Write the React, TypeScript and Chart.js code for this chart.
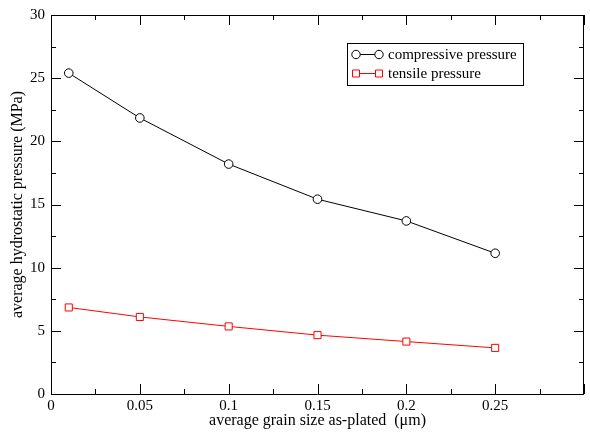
import React, { useEffect, useRef } from "react";
import { Chart, registerables } from "chart.js";

Chart.register(...registerables);

const grainSizes = [0.01, 0.05, 0.1, 0.15, 0.2, 0.25];
const compressive = [25.4, 21.85, 18.2, 15.42, 13.7, 11.14];
const tensile = [6.85, 6.1, 5.35, 4.66, 4.15, 3.65];
const seriesLabels = ["compressive pressure", "tensile pressure"];
const seriesColors = ["#000000", "#ff0000"];
const seriesMarkers = ["circle", "rect"];
const xTitle = "average grain size as-plated  (\u03bcm)";
const yTitle = "average hydrostatic pressure (MPa)";
const X_MIN = 0, X_MAX = 0.3, X_STEP = 0.05;
const Y_MIN = 0, Y_MAX = 30, Y_STEP = 5;

const FONT = "'Liberation Serif', 'Times New Roman', serif";

const framePlugin = {
  id: "frameTicks",
  afterDatasetsDraw(chart: any) {
    const { ctx, chartArea } = chart;
    const { left, right, top, bottom } = chartArea;
    const xs = chart.scales.x;
    const ys = chart.scales.y;
    ctx.save();
    ctx.strokeStyle = "#000";
    ctx.lineWidth = 1;
    ctx.beginPath();
    ctx.rect(Math.round(left) + 0.5, Math.round(top) + 0.5, Math.round(right - left) - 1, Math.round(bottom - top));
    ctx.stroke();
    ctx.beginPath();
    for (let v = X_MIN; v <= X_MAX + 1e-9; v += X_STEP / 2) {
      const idx = Math.round(v / (X_STEP / 2));
      const len = idx % 2 === 0 ? 10 : 5;
      const px = Math.round(xs.getPixelForValue(v)) + 0.5;
      ctx.moveTo(px, bottom);
      ctx.lineTo(px, bottom - len);
      ctx.moveTo(px, top);
      ctx.lineTo(px, top + len);
    }
    for (let v = Y_MIN; v <= Y_MAX + 1e-9; v += Y_STEP / 2) {
      const idx = Math.round(v / (Y_STEP / 2));
      const len = idx % 2 === 0 ? 10 : 5;
      const py = Math.round(ys.getPixelForValue(v)) + 0.5;
      ctx.moveTo(left, py);
      ctx.lineTo(left + len, py);
      ctx.moveTo(right, py);
      ctx.lineTo(right - len, py);
    }
    ctx.stroke();

    // legend
    const bx = 347, by = 43, bw = 176, bh = 42;
    ctx.fillStyle = "#fff";
    ctx.fillRect(bx, by, bw, bh);
    ctx.strokeStyle = "#000";
    ctx.strokeRect(bx + 0.5, by + 0.5, bw, bh);
    ctx.font = `15px ${FONT}`;
    ctx.textBaseline = "middle";
    ctx.textAlign = "left";
    seriesLabels.forEach((lab, i) => {
      const ry = 54 + i * 19;
      const color = seriesColors[i];
      ctx.strokeStyle = color;
      ctx.beginPath();
      ctx.moveTo(356, ry + 0.5);
      ctx.lineTo(379, ry + 0.5);
      ctx.stroke();
      [356, 379].forEach((mx) => {
        ctx.beginPath();
        if (seriesMarkers[i] === "circle") {
          ctx.arc(mx, ry + 0.5, 4.2, 0, Math.PI * 2);
        } else {
          ctx.rect(mx - 3.5, ry - 3, 7, 7);
        }
        ctx.fillStyle = "#fff";
        ctx.fill();
        ctx.stroke();
      });
      ctx.fillStyle = "#000";
      ctx.fillText(lab, 388, ry + 1);
    });
    ctx.restore();
  },
};

export default function App() {
  const ref = useRef<HTMLCanvasElement>(null);
  useEffect(() => {
    document.body.style.margin = "0";
    const canvas = ref.current!;
    const mk = (vals: number[]) => grainSizes.map((x, i) => ({ x, y: vals[i] }));
    const chart = new Chart(canvas, {
      type: "line",
      data: {
        datasets: [compressive, tensile].map((vals, i) => ({
          label: seriesLabels[i],
          data: mk(vals),
          borderColor: seriesColors[i],
          backgroundColor: "#ffffff",
          borderWidth: 1,
          pointStyle: seriesMarkers[i] as any,
          pointRadius: seriesMarkers[i] === "circle" ? 4.3 : 5,
          pointBorderColor: seriesColors[i],
          pointBackgroundColor: "#ffffff",
          pointBorderWidth: 1,
          tension: 0,
          fill: false,
        })),
      },
      options: {
        animation: false,
        responsive: false,
        maintainAspectRatio: false,
        layout: { padding: { left: 0, right: 1, top: 15, bottom: 0 } },
        plugins: { legend: { display: false }, tooltip: { enabled: false } },
        scales: {
          x: {
            type: "linear",
            min: X_MIN,
            max: X_MAX,
            grid: { display: false, drawTicks: false },
            border: { display: false },
            ticks: {
              stepSize: X_STEP,
              padding: 3,
              maxRotation: 0,
              color: "#000",
              font: { family: FONT, size: 15 },
              callback: (v: any) => (Number(v) > X_MAX - 1e-6 ? "" : String(Number(Number(v).toFixed(2)))),
            },
            title: {
              display: true,
              text: xTitle,
              color: "#000",
              font: { family: FONT, size: 16 },
              padding: { top: 0, bottom: 2 },
            },
            afterFit: (s: any) => {
              s.height = 38;
            },
          },
          y: {
            type: "linear",
            min: Y_MIN,
            max: Y_MAX,
            grid: { display: false, drawTicks: false },
            border: { display: false },
            ticks: {
              stepSize: Y_STEP,
              padding: 6,
              color: "#000",
              font: { family: FONT, size: 15 },
            },
            title: {
              display: true,
              text: yTitle,
              color: "#000",
              font: { family: FONT, size: 16 },
              padding: { top: 8, bottom: 0 },
            },
            afterFit: (s: any) => {
              s.width = 51;
            },
          },
        },
      },
      plugins: [framePlugin],
    });
    return () => chart.destroy();
  }, []);
  return (
    <div style={{ position: "absolute", left: 0, top: 0, width: 590, height: 432, background: "#fff" }}>
      <canvas ref={ref} width={590} height={432} style={{ width: 590, height: 432 }} />
    </div>
  );
}
